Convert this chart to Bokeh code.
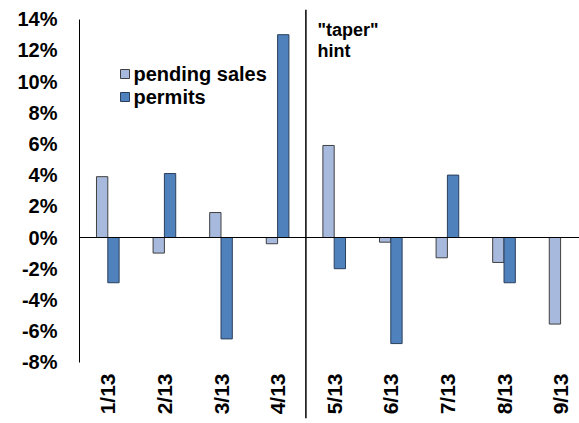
import numpy as np
from bokeh.plotting import figure
from bokeh.models import Range1d, FixedTicker, Span, Label, ColumnDataSource
from bokeh.core.properties import value
from bokeh.embed import file_html
from bokeh.resources import INLINE

months = ["1/13", "2/13", "3/13", "4/13", "5/13", "6/13", "7/13", "8/13", "9/13"]
pending_sales = [3.9, -1.0, 1.6, -0.4, 5.9, -0.3, -1.3, -1.6, -5.55]
permits = [-2.9, 4.1, -6.5, 13.0, -2.0, -6.8, 4.0, -2.9, float("nan")]
y_ticks = [-8, -6, -4, -2, 0, 2, 4, 6, 8, 10, 12, 14]
series_names = ["pending sales", "permits"]
series_fill = ["#A7B9DC", "#4F81BD"]
series_line = ["#404040", "#2A3F5A"]

FONT = "Liberation Sans"
LEFT = 79
pitch = 56.6
W, H = 579, 423
PX_PER_UNIT = 15.6
ZERO_PX = 237


def px_to_y(py):
    return (ZERO_PX - py) / PX_PER_UNIT


def px_to_x(px):
    return (px - LEFT) / pitch


p = figure(width=W, height=H, output_backend="svg", toolbar_location=None,
           x_range=Range1d(0, (W - LEFT) / pitch), y_range=Range1d(px_to_y(418), px_to_y(9)),
           x_axis_location=None, min_border_left=LEFT, min_border_right=0,
           min_border_top=9, min_border_bottom=5)
p.outline_line_color = None
p.xgrid.visible = False
p.ygrid.visible = False
p.background_fill_color = "white"
p.border_fill_color = "white"

xc = np.arange(len(months)) + 0.5
src = ColumnDataSource(dict(x=xc, xl=xc - 0.1, xr=xc + 0.1, ps=pending_sales, pm=permits, lab=months))

p.vbar(x="xl", width=0.2, top="ps", bottom=0, source=src,
       fill_color=series_fill[0], line_color=series_line[0], line_width=1)
p.vbar(x="xr", width=0.2, top="pm", bottom=0, source=src,
       fill_color=series_fill[1], line_color=series_line[1], line_width=1)

# y axis
ax = p.yaxis[0]
ax.ticker = FixedTicker(ticks=y_ticks)
ax.major_label_overrides = {t: f"{t}%" for t in y_ticks}
ax.bounds = (-8, 14)
ax.major_tick_out = 0
ax.major_tick_in = 0
ax.minor_tick_out = 0
ax.minor_tick_in = 0
ax.major_label_standoff = 22
ax.major_label_text_font = FONT
ax.major_label_text_font_style = "bold"
ax.major_label_text_font_size = "20px"
ax.major_label_text_color = "black"
ax.axis_line_color = "black"

# zero line and taper separator
p.add_layout(Span(location=0, dimension="width", line_color="black", line_width=1))
p.add_layout(Span(location=4, dimension="height", line_color="black", line_width=1.5))

# category labels
p.text(x="x", y=px_to_y(373), text="lab", source=src, angle=np.pi / 2,
       text_align="right", text_baseline="middle",
       text_font=value(FONT), text_font_style="bold", text_font_size="21px",
       text_color="black")

# annotation
for txt, py in [('"taper"', 29), ("hint", 50)]:
    p.add_layout(Label(x=px_to_x(317), y=px_to_y(py), text=txt, text_baseline="middle",
                       text_font=FONT, text_font_style="bold",
                       text_font_size="18px", text_color="black"))

# legend (drawn manually to get square swatches)
leg_rows = [73.5, 96.5]
p.scatter(x=[px_to_x(124.5)] * 2, y=[px_to_y(r) for r in leg_rows], marker="square",
          size=9, fill_color=series_fill, line_color=series_line, line_width=1)
for name, py in zip(series_names, leg_rows):
    p.add_layout(Label(x=px_to_x(133), y=px_to_y(py), text=name, text_baseline="middle",
                       text_font=FONT, text_font_style="bold",
                       text_font_size="20px", text_color="black"))

open("out.html", "w").write(file_html(p, INLINE))
